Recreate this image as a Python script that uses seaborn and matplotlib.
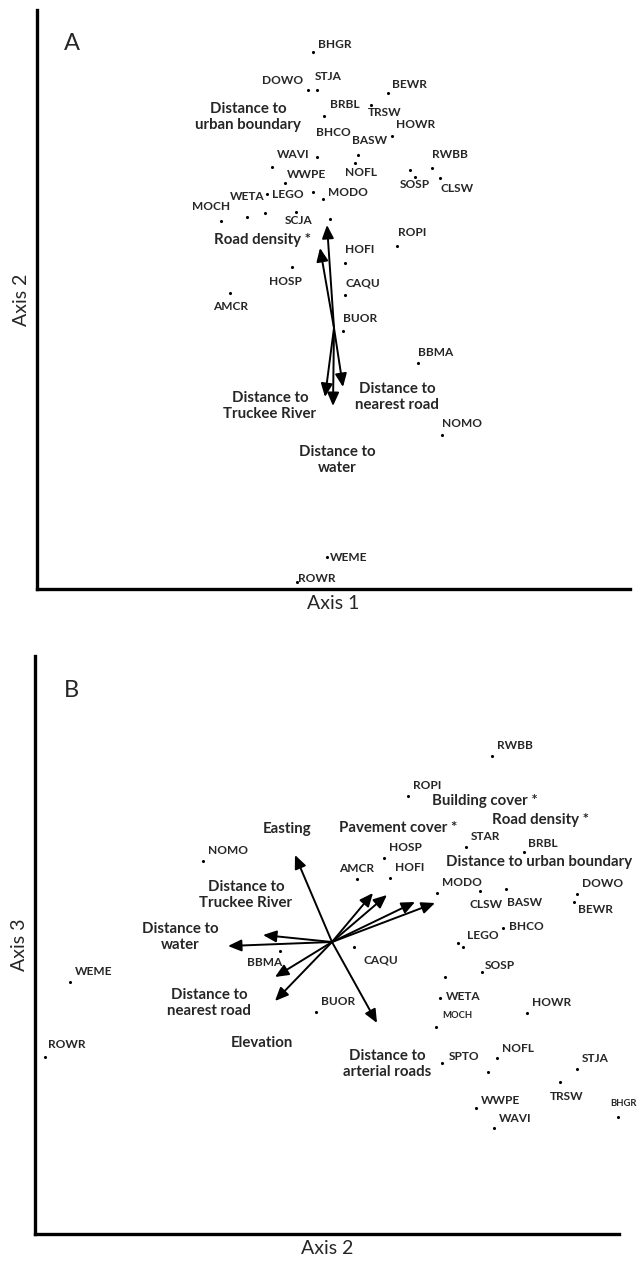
import matplotlib
matplotlib.use("Agg")
import matplotlib.pyplot as plt
import seaborn as sns
import pandas as pd

# ---- Panel A: species scores on axis 1 / axis 2 ----
species_a = ["BHGR", "DOWO", "STJA", "BEWR", "BRBL", "TRSW", "HOWR", "BHCO", "BASW", "WAVI",
             "NOFL", "RWBB", "WWPE", "SOSP", "CLSW", "MOCH", "WETA", "LEGO", "MODO", "SCJA",
             "ROPI", "HOFI", "HOSP", "CAQU", "AMCR", "BUOR", "BBMA", "NOMO", "WEME", "ROWR"]
axis1_a = [-0.21, -0.26, -0.17, 0.54, -0.10, 0.37, 0.58, -0.17, 0.24, -0.62,
           0.21, 0.98, -0.49, 0.76, 1.06, -1.13, -0.87, -0.67, -0.11, -0.38,
           0.63, 0.11, -0.42, 0.11, -1.04, 0.09, 0.84, 1.08, -0.07, -0.37]
axis2_a = [2.76, 2.38, 2.38, 2.35, 2.12, 2.23, 1.92, 1.71, 1.73, 1.61,
           1.65, 1.60, 1.45, 1.58, 1.50, 1.07, 1.11, 1.34, 1.29, 1.16,
           0.82, 0.65, 0.61, 0.33, 0.35, -0.03, -0.35, -1.07, -2.29, -2.54]
# unlabelled points in panel A
extra1_a = [-0.69, -0.21, -0.04, 0.81]
extra2_a = [1.15, 1.36, 1.09, 1.51]

env_a = ["Distance to\nurban boundary", "Road density *", "Distance to\nTruckee River",
         "Distance to\nwater", "Distance to\nnearest road"]
env1_a = [-0.07, -0.14, -0.09, -0.01, 0.09]
env2_a = [1.03, 0.80, -0.69, -0.78, -0.59]

# ---- Panel B: species scores on axis 2 / axis 3 ----
species_b = ["RWBB", "ROPI", "STAR", "BRBL", "HOSP", "AMCR", "HOFI", "MODO", "CLSW", "BASW",
             "DOWO", "BEWR", "NOMO", "BHCO", "LEGO", "CAQU", "BBMA", "SOSP", "WEME", "WETA",
             "BUOR", "MOCH", "HOWR", "ROWR", "SPTO", "NOFL", "STJA", "TRSW", "WWPE", "WAVI", "BHGR"]
axis2_b = [1.60, 0.76, 1.34, 1.92, 0.52, 0.25, 0.58, 1.05, 1.48, 1.74,
           2.45, 2.42, -1.29, 1.71, 1.31, 0.22, -0.52, 1.50, -2.62, 1.08,
           -0.16, 1.04, 1.95, -2.87, 1.10, 1.65, 2.45, 2.28, 1.44, 1.62, 2.86]
axis3_b = [1.86, 1.46, 0.95, 0.90, 0.84, 0.63, 0.64, 0.49, 0.51, 0.53,
           0.48, 0.40, 0.81, 0.14, -0.05, -0.05, -0.09, -0.30, -0.40, -0.56,
           -0.70, -0.85, -0.71, -1.15, -1.21, -1.16, -1.27, -1.40, -1.66, -1.86, -1.75]
extra2_b = [1.26, 1.13, 1.56]
extra3_b = [-0.01, -0.35, -1.30]

env_b = ["Easting", "Pavement cover *", "Building cover *", "Road density *",
         "Distance to urban boundary", "Distance to\nTruckee River", "Distance to\nwater",
         "Distance to\nnearest road", "Elevation", "Distance to\narterial roads"]
env2_b = [-0.37, 0.41, 0.55, 0.83, 1.03, -0.69, -1.04, -0.57, -0.57, 0.45]
env3_b = [0.87, 0.49, 0.47, 0.40, 0.39, 0.07, -0.04, -0.35, -0.59, -0.81]

# ---- layout: label offsets (pixels) and env label positions ----
offs_a = {"BHGR": (5, 7, "left"), "DOWO": (-5, 9, "right"), "STJA": (-2, 13, "left"),
          "BEWR": (4, 9, "left"), "BRBL": (6, 11, "left"), "TRSW": (-3, -7, "left"),
          "HOWR": (4, 11, "left"), "BHCO": (-1, 24, "left"), "BASW": (-6, 15, "left"),
          "WAVI": (5, 13, "left"), "NOFL": (-10, -9, "left"), "RWBB": (0, 13, "left"),
          "WWPE": (2, 8, "left"), "SOSP": (-10, -15, "left"), "CLSW": (0, -10, "left"),
          "MOCH": (-29, 14, "left"), "WETA": (-17, 21, "left"), "LEGO": (5, -1, "left"),
          "MODO": (5, 6, "left"), "SCJA": (-11, -9, "left"), "ROPI": (1, 13, "left"),
          "HOFI": (0, 14, "left"), "HOSP": (-23, -14, "left"), "CAQU": (0, 12, "left"),
          "AMCR": (-17, -13, "left"), "BUOR": (0, 13, "left"), "BBMA": (0, 11, "left"),
          "NOMO": (0, 12, "left"), "WEME": (3, 0, "left"), "ROWR": (1, 4, "left")}
offs_b = {"AMCR": (-18, 10, "left"), "CLSW": (-11, -14, "left"), "BASW": (1, -14, "left"),
          "BEWR": (4, -8, "left"), "BHCO": (6, 1, "left"), "LEGO": (4, 11, "left"),
          "CAQU": (9, -13, "left"), "BBMA": (-33, -12, "left"), "SOSP": (3, 6, "left"),
          "WETA": (6, 1, "left"), "MOCH": (6, 11, "left"), "SPTO": (7, 6, "left"),
          "TRSW": (-10, -15, "left"), "WWPE": (5, 8, "left"), "BHGR": (-8, 13, "left"),
          "BRBL": (4, 8, "left"), "ROWR": (3, 12, "left")}
small_b = ["MOCH", "BHGR"]
envpos_a = [(-0.86, 2.11), (-0.72, 0.88), (-0.64, -0.78), (0.03, -1.32), (0.63, -0.69)]
envpos_b = [(-0.45, 1.13), (0.66, 1.14), (1.53, 1.41), (2.08, 1.22), (2.07, 0.80),
            (-0.86, 0.47), (-1.52, 0.05), (-1.23, -0.61), (-0.70, -1.01), (0.55, -1.22)]

sns.set_style("white")
plt.rcParams["font.family"] = ["Lato", "DejaVu Sans"]


def draw_panel(ax, names, xs, ys, ex, ey, offs, small, env, envx, envy, envpos):
    pts = pd.DataFrame({"x": list(xs) + list(ex), "y": list(ys) + list(ey)})
    sns.scatterplot(data=pts, x="x", y="y", ax=ax, s=5, color="black",
                    linewidth=0, legend=False)
    for n, x, y in zip(names, xs, ys):
        dx, dy, ha = offs.get(n, (5, 10, "left"))
        ax.annotate(n, (x, y), xytext=(dx, dy), textcoords="offset pixels",
                    ha=ha, va="center", fontsize=6.8 if n in small else 8.6,
                    fontweight="bold")
    for n, x, y, (tx, ty) in zip(env, envx, envy, envpos):
        ax.annotate("", xy=(x, y), xytext=(0, 0),
                    arrowprops=dict(arrowstyle="-|>,head_length=0.5,head_width=0.22",
                                    color="black", lw=1.4,
                                    mutation_scale=16, shrinkA=0, shrinkB=0))
        ax.text(tx, ty, n, ha="center", va="center", fontsize=10.8,
                fontweight="bold", linespacing=1.12)
    ax.set_xticks([])
    ax.set_yticks([])
    for s in ["top", "right"]:
        ax.spines[s].set_visible(False)
    for s in ["left", "bottom"]:
        ax.spines[s].set_linewidth(2.4)
        ax.spines[s].set_color("black")


fig = plt.figure(figsize=(6.42, 12.62), dpi=100)
W, H = 642.0, 1262.0

ax1 = fig.add_axes([37 / W, 1 - 589 / H, (630 - 37) / W, (589 - 10) / H])
draw_panel(ax1, species_a, axis1_a, axis2_a, extra1_a, extra2_a, offs_a, [],
           env_a, env1_a, env2_a, envpos_a)
ax1.set_xlim(-2.97, 2.96)
ax1.set_ylim(-2.61, 3.18)
ax1.set_xlabel("Axis 1", fontsize=14, labelpad=4)
ax1.set_ylabel("Axis 2", fontsize=14, labelpad=5)
ax1.text(0.059, 0.943, "A", transform=ax1.transAxes, ha="center", va="center", fontsize=17)

ax2 = fig.add_axes([35 / W, 1 - 1234 / H, (619 - 35) / W, (1234 - 656) / H])
draw_panel(ax2, species_b, axis2_b, axis3_b, extra2_b, extra3_b, offs_b, small_b,
           env_b, env2_b, env3_b, envpos_b)
ax2.set_xlim(-2.97, 2.87)
ax2.set_ylim(-2.92, 2.86)
ax2.set_xlabel("Axis 2", fontsize=14, labelpad=4)
ax2.set_ylabel("Axis 3", fontsize=14, labelpad=5)
ax2.text(0.063, 0.941, "B", transform=ax2.transAxes, ha="center", va="center", fontsize=17)

fig.savefig("out.png", dpi=100)
